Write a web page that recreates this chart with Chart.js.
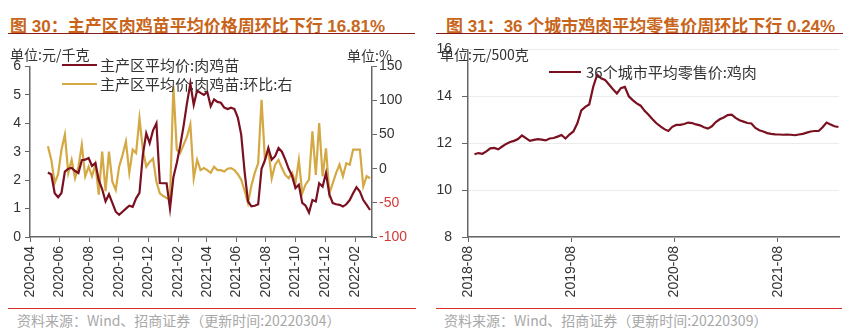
<!DOCTYPE html>
<html>
<head>
<meta charset="utf-8">
<script src="https://cdn.jsdelivr.net/npm/chart.js@4.4.0/dist/chart.umd.min.js"></script>
<style>
body { margin: 0; width: 868px; height: 334px; background: #fff; position: relative; overflow: hidden;
       font-family: "Liberation Sans", "Noto Sans CJK SC", sans-serif; }
.title { position: absolute; top: 12px; font-size: 17px; font-weight: bold; color: #c8651b; white-space: nowrap; }
.rule { position: absolute; height: 0; }
.unit { position: absolute; font-family: "Noto Sans CJK SC", sans-serif; font-size: 14px; color: #333; white-space: nowrap; line-height: 16px; }
.leg { position: absolute; font-family: "Noto Sans CJK SC", sans-serif; font-size: 15px; color: #333; white-space: nowrap; line-height: 18px; display: flex; align-items: center; }
.leg i { display: inline-block; width: 35px; height: 2.5px; margin-right: 3px; }
.src { position: absolute; top: 311px; font-family: "Noto Sans CJK SC", sans-serif; font-size: 14px; color: #a8a8a8; white-space: nowrap; line-height: 18px; }
.box { position: absolute; }
</style>
</head>
<body>

<div class="title" style="left:10px">图 30：主产区肉鸡苗平均价格周环比下行 16.81%</div>
<div class="rule" style="left:8px;width:407px;top:33px;border-top:1.5px solid #8b1a1a"></div>
<div class="title" style="left:446px">图 31：36 个城市鸡肉平均零售价周环比下行 0.24%</div>
<div class="rule" style="left:436px;width:407px;top:33px;border-top:1.5px solid #8b1a1a"></div>

<div class="box" style="left:0;top:54px;width:434px;height:251px"><canvas id="chickChart"></canvas></div>
<div class="box" style="left:434px;top:31px;width:434px;height:274px"><canvas id="retailChart"></canvas></div>

<div class="unit" style="left:10px;top:46px">单位:元/千克</div>
<div class="unit" style="left:347px;top:47px">单位:%</div>
<div class="unit" style="left:440px;top:46px">单位:元/500克</div>

<div class="leg" style="left:62px;top:56px"><i style="background:#7b1020"></i>主产区平均价:肉鸡苗</div>
<div class="leg" style="left:62px;top:75px"><i style="background:#d4a843"></i>主产区平均价:肉鸡苗:环比:右</div>
<div class="leg" style="left:549px;top:63px"><i style="background:#7b1020;width:32px;margin-right:5px"></i>36个城市平均零售价:鸡肉</div>

<div class="rule" style="left:8px;width:408px;top:308px;border-top:1.5px solid #d9302c"></div>
<div class="src" style="left:17px">资料来源：Wind、招商证券（更新时间:20220304）</div>
<div class="rule" style="left:436px;width:406px;top:308px;border-top:1.5px solid #d9302c"></div>
<div class="src" style="left:444px">资料来源：Wind、招商证券（更新时间:20220309）</div>

<script>
// 主产区肉鸡苗平均价 (元/千克), weekly from 2020-05-08
const chickStart = '2020-05-08';
const chickPrice = [
    2.27, 2.2, 1.54, 1.4, 1.55, 2.3, 2.4, 2.43, 2.32, 2.25,
    2.7, 2.72, 2.78, 2.5, 2.6, 2.0, 1.68, 1.25, 1.5, 1.2,
    0.89, 0.78, 0.89, 1.0, 1.1, 1.06, 1.36, 1.55, 2.9, 3.65,
    3.3, 3.75, 4.0, 1.9, 1.89, 1.89, 1.0, 2.1, 2.6, 3.2,
    3.9, 4.7, 5.4, 4.65, 5.15, 5.07, 5.0, 5.1, 4.6, 4.84,
    4.75, 4.72, 4.55, 4.5, 4.55, 4.5, 4.2, 3.6, 2.3, 1.25,
    1.08, 1.1, 1.15, 2.4, 2.7, 3.13, 2.72, 2.84, 3.13, 3.0,
    2.72, 2.4, 2.15, 1.72, 1.84, 1.2, 1.1, 0.86, 1.3, 1.25,
    1.89, 1.77, 2.25, 1.5, 1.19, 1.15, 1.13, 1.07, 1.15, 1.3,
    1.54, 1.75, 1.6, 1.3, 1.13, 0.95
];
// 环比 (%)
const chickWoW = [
    33, 13, -21, -8, 28, 50, -6, 13, -14, 3,
    35, -11, 3, -11, 6, -38, 25, -33, 25, -19,
    -31, 3, 20, 40, -6, 28, 23, 74, 28, 3,
    10, 15, -19, -36, -40, -43, -45, 121, 28, 23,
    35, 47, 65, -14, 13, -2, 1, -2, -6, 3,
    -2, -2, -4, 0, 1, -2, -8, -16, -32, -50,
    -25, -6, 8, 101, 13, 28, -14, 6, 13, 1,
    -9, -14, -6, -21, 13, -36, -23, -16, 55, -9,
    67, -11, 30, -36, -21, -6, 6, -11, 8, 6,
    28, 28, 28, -26, -11, -14
];
const chickTicks = ['2020-04', '2020-06', '2020-08', '2020-10', '2020-12', '2021-02',
                    '2021-04', '2021-06', '2021-08', '2021-10', '2021-12', '2022-02'];

// 36个城市平均零售价:鸡肉 (元/500克), every two weeks from 2018-08-24
const retailStart = '2018-08-24';
const retailPrice = [
    11.53, 11.58, 11.55, 11.65, 11.78, 11.8, 11.74, 11.86, 11.97, 12.05,
    12.1, 12.18, 12.33, 12.22, 12.1, 12.14, 12.17, 12.15, 12.12, 12.2,
    12.22, 12.28, 12.35, 12.2, 12.37, 12.5, 12.85, 13.4, 13.55, 13.65,
    14.4, 14.92, 14.77, 14.7, 14.5, 14.3, 14.12, 14.35, 14.4, 14.0,
    13.84, 13.7, 13.6, 13.38, 13.21, 13.02, 12.85, 12.72, 12.6, 12.52,
    12.7, 12.78, 12.78, 12.82, 12.88, 12.86, 12.8, 12.76, 12.68, 12.62,
    12.72, 12.9, 13.02, 13.1, 13.2, 13.22, 13.08, 12.98, 12.92, 12.86,
    12.84, 12.65, 12.55, 12.5, 12.43, 12.4, 12.38, 12.37, 12.36, 12.37,
    12.36, 12.34, 12.37, 12.4, 12.45, 12.5, 12.52, 12.52, 12.68, 12.88,
    12.8, 12.72, 12.69
];
const retailTicks = ['2018-08', '2019-08', '2020-08', '2021-08'];

// dates as whole days since epoch, so a plain linear axis can carry them
const day = s => Date.UTC(+s.slice(0, 4), +s.slice(5, 7) - 1, s.length > 7 ? +s.slice(8, 10) : 1) / 864e5;
const ym = v => {
    const d = new Date(v * 864e5);
    return d.getUTCFullYear() + '-' + String(d.getUTCMonth() + 1).padStart(2, '0');
};
const series = (start, step, vals) => vals.map((v, i) => ({ x: day(start) + i * step, y: v }));

const tickFont = { family: '"Liberation Sans", Arial, sans-serif', size: 14 };
const axisColor = '#666';

function dateAxis(min, max, ticks) {
    return {
        type: 'linear',
        min: day(min),
        max: day(max),
        afterBuildTicks: s => { s.ticks = ticks.map(t => ({ value: day(t) })); },
        afterFit: s => { s.height = 68; },
        grid: { drawOnChartArea: false, tickLength: 5, tickColor: axisColor },
        border: { color: axisColor, width: 1.5 },
        ticks: { font: tickFont, color: '#333', minRotation: 90, maxRotation: 90, autoSkip: false, padding: 4,
                 callback: v => ym(v) }
    };
}

const chickChart = new Chart(document.getElementById('chickChart'), {
    type: 'line',
    data: {
        datasets: [{
            label: '主产区平均价:肉鸡苗',
            data: series(chickStart, 7, chickPrice),
            borderColor: '#7b1020',
            borderWidth: 2.2,
            pointRadius: 0,
            yAxisID: 'y'
        }, {
            label: '主产区平均价:肉鸡苗:环比:右',
            data: series(chickStart, 7, chickWoW),
            borderColor: '#d4a843',
            borderWidth: 2.2,
            pointRadius: 0,
            yAxisID: 'y1'
        }]
    },
    options: {
        responsive: true,
        maintainAspectRatio: false,
        animation: false,
        layout: { padding: 0 },
        plugins: { legend: { display: false }, tooltip: { enabled: false } },
        scales: {
            x: dateAxis('2020-04-01', '2022-03-08', chickTicks),
            y: {
                min: 0, max: 6,
                afterFit: s => { s.width = 30; },
                grid: { drawOnChartArea: false, tickLength: 5, tickColor: axisColor },
                border: { color: axisColor, width: 1.5 },
                ticks: { stepSize: 1, font: tickFont, color: '#333', padding: 4 }
            },
            y1: {
                position: 'right',
                min: -100, max: 150,
                afterFit: s => { s.width = 62; },
                grid: { drawOnChartArea: false, tickLength: 5, tickColor: axisColor },
                border: { color: axisColor, width: 1.5 },
                ticks: { stepSize: 50, font: tickFont, padding: 2,
                         color: c => c.tick.value < 0 ? '#d23a3a' : '#333' }
            }
        }
    }
});

const retailChart = new Chart(document.getElementById('retailChart'), {
    type: 'line',
    data: {
        datasets: [{
            label: '36个城市平均零售价:鸡肉',
            data: series(retailStart, 14, retailPrice),
            borderColor: '#7b1020',
            borderWidth: 2.2,
            pointRadius: 0
        }]
    },
    options: {
        responsive: true,
        maintainAspectRatio: false,
        animation: false,
        layout: { padding: { right: 29 } },
        plugins: { legend: { display: false }, tooltip: { enabled: false } },
        scales: {
            x: dateAxis('2018-08-01', '2022-03-06', retailTicks),
            y: {
                min: 8, max: 16,
                afterFit: s => { s.width = 34; },
                grid: { color: '#ececec', tickLength: 6, tickColor: axisColor },
                border: { color: axisColor, width: 1.5 },
                ticks: { stepSize: 2, font: tickFont, color: '#333', padding: 10 }
            }
        }
    }
});
</script>
</body>
</html>
